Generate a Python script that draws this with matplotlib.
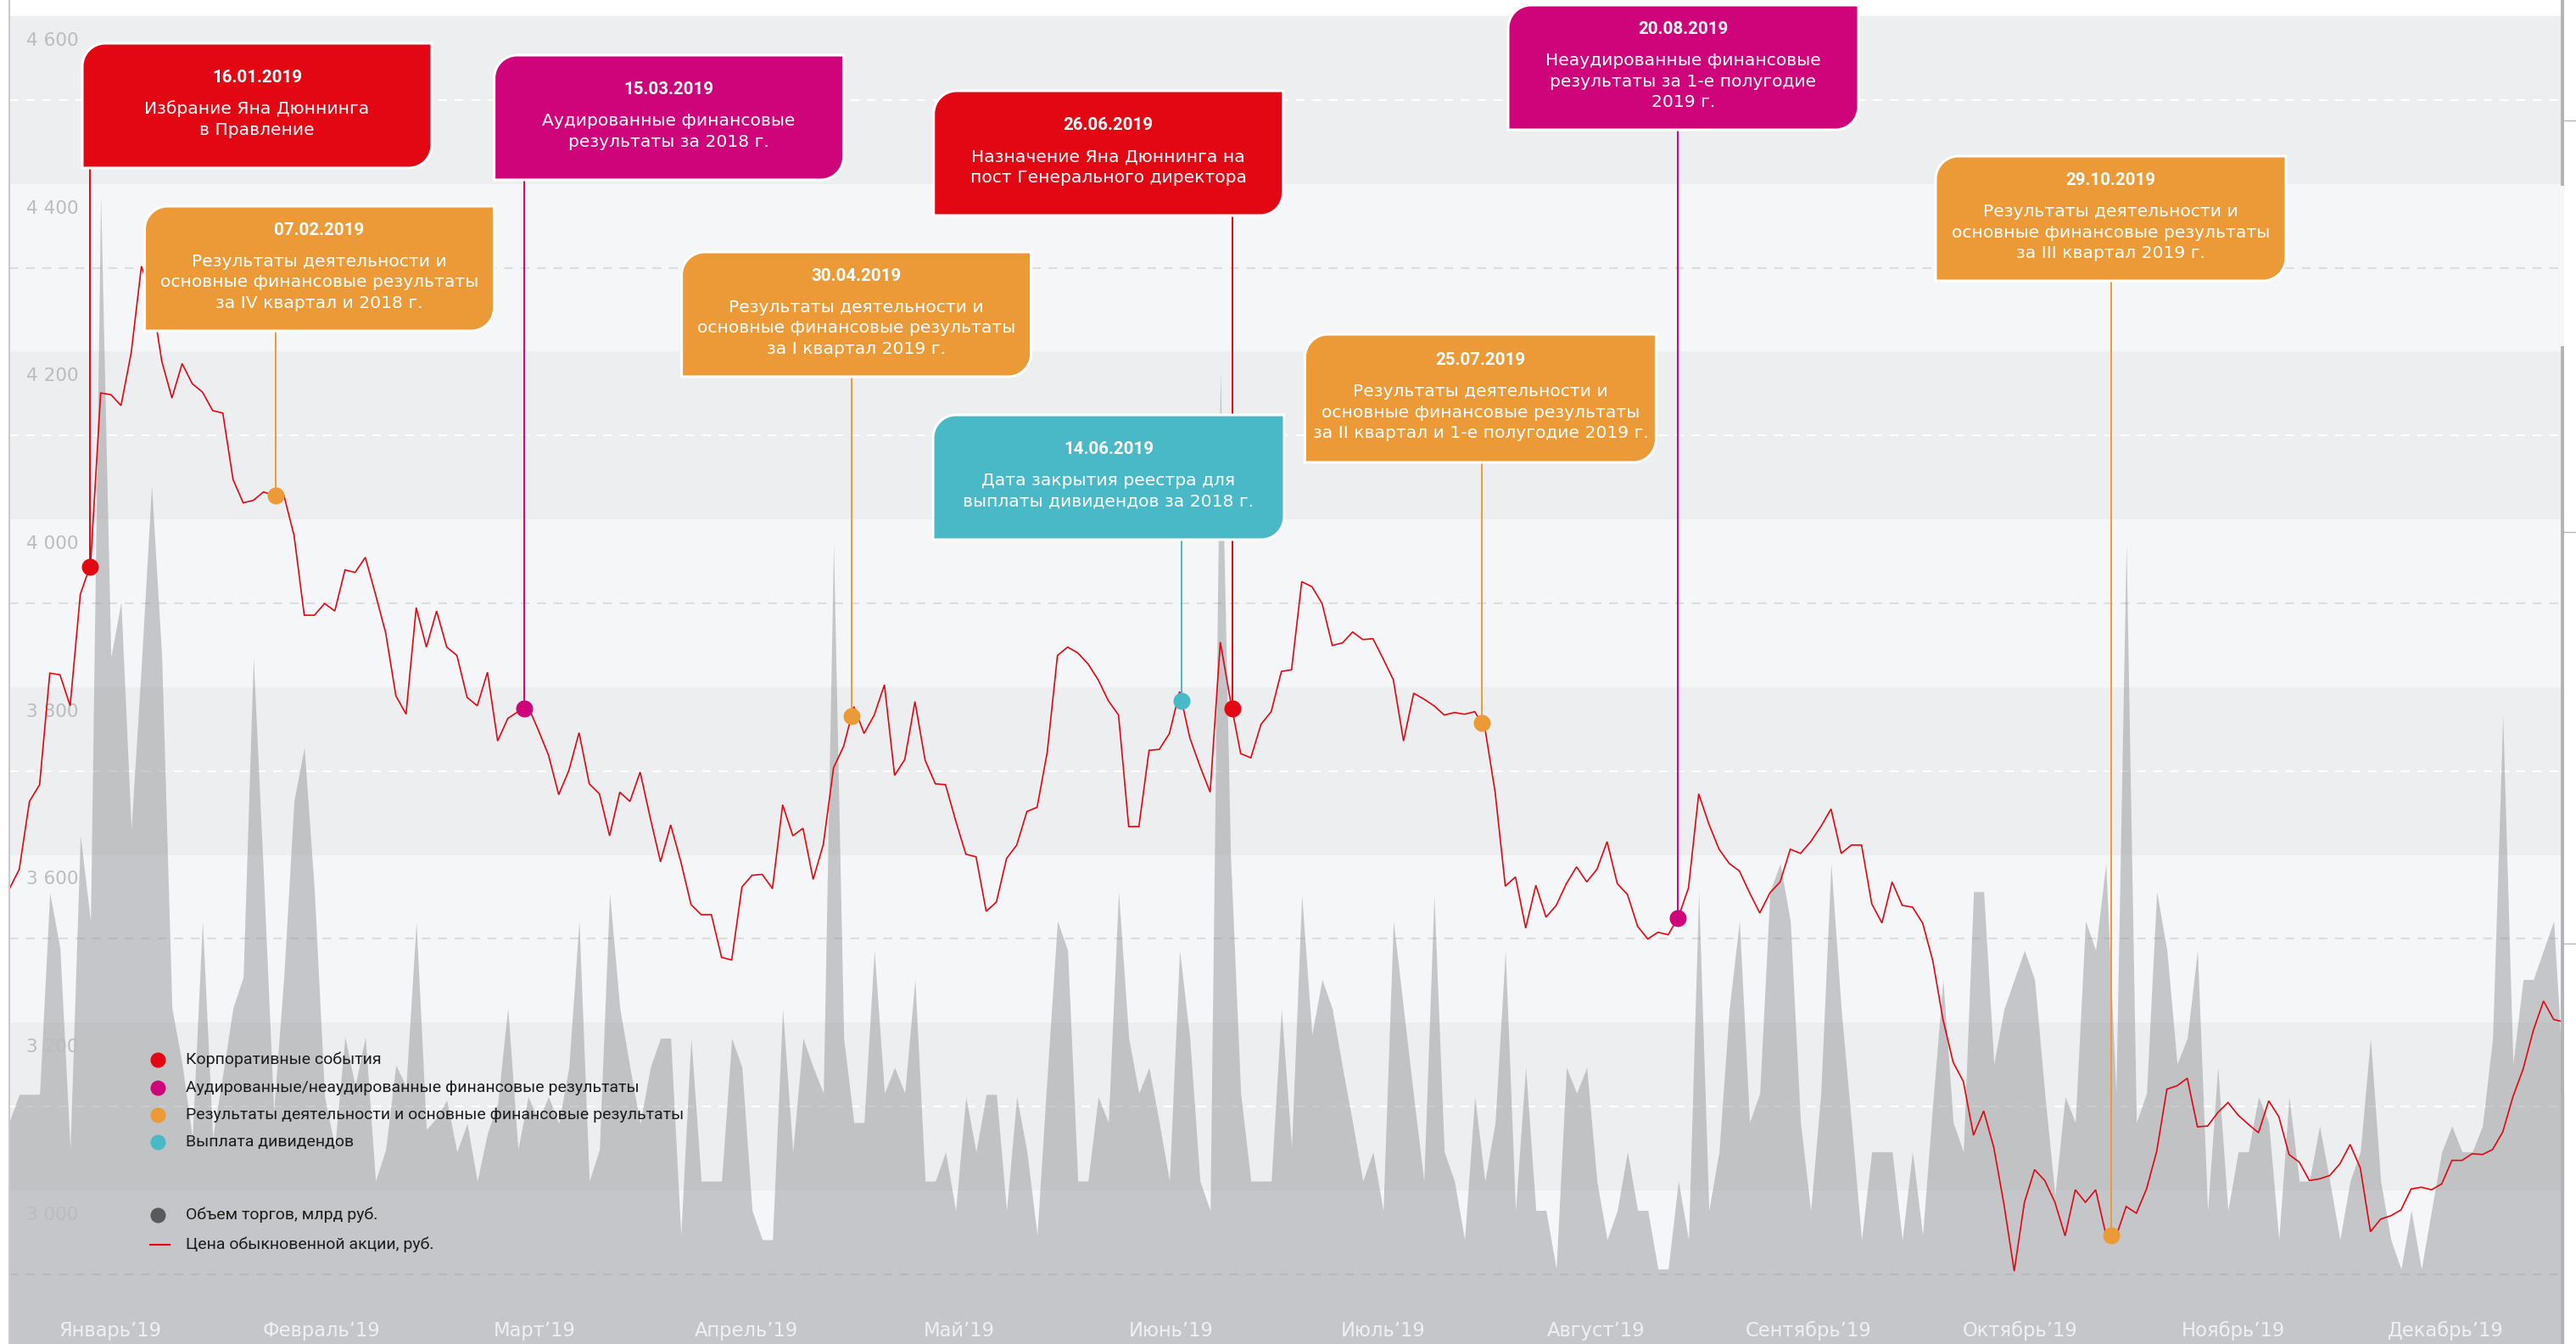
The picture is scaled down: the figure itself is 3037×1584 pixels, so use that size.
import numpy as np
import matplotlib
matplotlib.use("Agg")
import matplotlib.pyplot as plt
from matplotlib.path import Path
from matplotlib.patches import PathPatch
import matplotlib.transforms as mtransforms

plt.rcParams['lines.scale_dashes'] = False
plt.rcParams['font.family'] = ['DejaVu Sans']

W, H, DPI = 3037, 1584, 100

# ---------------- data ----------------
price = [
    3586, 3610, 3691, 3711, 3844, 3842, 3805, 3938, 3973, 4178,
    4176, 4163, 4226, 4329, 4294, 4216, 4172, 4213, 4189, 4179,
    4157, 4154, 4075, 4047, 4050, 4060, 4056, 4056, 4008, 3913,
    3913, 3927, 3918, 3967, 3964, 3982, 3938, 3892, 3817, 3795,
    3922, 3875, 3918, 3875, 3865, 3815, 3805, 3845, 3763, 3790,
    3798, 3804, 3776, 3746, 3699, 3728, 3773, 3712, 3700, 3650,
    3702, 3691, 3726, 3671, 3619, 3663, 3619, 3568, 3556, 3556,
    3505, 3502, 3589, 3603, 3604, 3587, 3687, 3650, 3659, 3598,
    3640, 3731, 3757, 3804, 3772, 3794, 3830, 3722, 3741, 3810,
    3740, 3712, 3711, 3668, 3628, 3625, 3560, 3571, 3623, 3639,
    3679, 3684, 3750, 3865, 3875, 3868, 3855, 3836, 3811, 3794,
    3661, 3661, 3752, 3753, 3772, 3822, 3767, 3733, 3702, 3881,
    3811, 3748, 3743, 3783, 3798, 3846, 3848, 3953, 3947, 3927,
    3877, 3880, 3893, 3884, 3885, 3861, 3836, 3763, 3820, 3813,
    3805, 3794, 3797, 3795, 3798, 3778, 3702, 3590, 3601, 3540,
    3591, 3553, 3567, 3593, 3613, 3595, 3610, 3643, 3593, 3580,
    3542, 3527, 3535, 3532, 3553, 3588, 3700, 3664, 3634, 3617,
    3608, 3582, 3558, 3582, 3595, 3634, 3629, 3643, 3661, 3682,
    3629, 3639, 3639, 3569, 3546, 3595, 3567, 3565, 3546, 3501,
    3431, 3380, 3357, 3293, 3322, 3278, 3210, 3131, 3213, 3252,
    3239, 3213, 3173, 3228, 3213, 3228, 3175, 3172, 3208, 3200,
    3229, 3274, 3348, 3352, 3361, 3303, 3304, 3320, 3332, 3317,
    3306, 3296, 3334, 3315, 3270, 3261, 3239, 3241, 3245, 3259,
    3282, 3254, 3178, 3193, 3197, 3204, 3229, 3231, 3228, 3235,
    3263, 3263, 3271, 3270, 3276, 3297, 3339, 3372, 3418, 3453,
    3431, 3428,
]

volume = [
    1.89, 2.13, 2.13, 2.13, 3.85, 3.38, 1.66, 4.34, 3.61, 9.80,
    5.86, 6.33, 4.39, 5.80, 7.33, 5.86, 2.87, 2.39, 1.76, 3.61,
    1.76, 2.30, 2.87, 3.13, 5.86, 3.99, 1.99, 3.14, 4.64, 5.09,
    3.86, 2.11, 1.68, 2.62, 2.20, 2.62, 1.39, 1.66, 2.38, 2.20,
    3.60, 1.83, 1.93, 2.08, 1.64, 1.88, 1.39, 1.80, 2.05, 2.87,
    1.66, 2.11, 1.91, 2.11, 1.88, 2.36, 3.61, 1.39, 1.66, 3.85,
    2.87, 2.36, 1.88, 2.36, 2.61, 2.61, 0.93, 2.61, 1.39, 1.39,
    1.39, 2.61, 2.36, 1.14, 0.89, 0.89, 2.86, 1.64, 2.61, 2.36,
    2.14, 6.83, 2.61, 1.89, 1.89, 3.36, 2.14, 2.36, 2.14, 3.11,
    1.39, 1.39, 1.64, 1.14, 2.11, 1.64, 2.13, 2.13, 1.14, 2.11,
    1.64, 0.93, 2.30, 3.61, 3.36, 1.39, 1.39, 2.11, 1.89, 3.86,
    2.61, 2.14, 2.36, 1.89, 1.39, 3.36, 2.61, 1.39, 1.14, 8.30,
    4.18, 2.14, 1.39, 1.39, 1.39, 2.86, 1.68, 3.83, 2.64, 3.11,
    2.86, 2.36, 1.89, 1.39, 1.64, 1.14, 3.61, 2.86, 2.11, 1.39,
    3.83, 1.64, 1.39, 0.89, 2.11, 1.39, 1.89, 3.36, 1.14, 2.36,
    1.14, 1.14, 0.64, 2.36, 2.14, 2.36, 1.39, 0.89, 1.14, 1.64,
    1.14, 1.14, 0.64, 0.64, 1.39, 0.89, 3.86, 1.14, 1.64, 2.86,
    3.61, 1.89, 2.14, 3.86, 4.10, 3.61, 1.89, 1.14, 2.14, 4.10,
    2.86, 1.89, 0.89, 1.64, 1.64, 1.64, 0.89, 1.64, 0.93, 2.05,
    3.11, 1.89, 1.64, 3.86, 3.86, 2.39, 2.86, 3.11, 3.36, 3.11,
    2.14, 1.27, 2.11, 1.89, 3.61, 3.36, 4.10, 2.14, 6.83, 1.89,
    2.14, 3.86, 3.36, 2.39, 2.61, 3.36, 1.14, 2.36, 1.14, 1.64,
    1.64, 2.11, 1.89, 0.89, 2.11, 1.39, 1.39, 1.86, 1.39, 0.89,
    1.39, 1.64, 2.61, 1.39, 0.89, 0.64, 1.14, 0.64, 1.14, 1.64,
    1.86, 1.64, 1.64, 1.86, 2.61, 5.36, 2.39, 3.11, 3.11, 3.36,
    3.61, 2.14,
]

months = ["Январь’19", "Февраль’19", "Март’19", "Апрель’19", "Май’19", "Июнь’19",
          "Июль’19", "Август’19", "Сентябрь’19", "Октябрь’19", "Ноябрь’19", "Декабрь’19"]
month_pos = [9.9, 30.7, 51.6, 72.4, 93.3, 114.2, 135.0, 155.9, 176.8, 197.6, 218.5, 239.4]

ytick_values = [4600, 4400, 4200, 4000, 3800, 3600, 3400, 3200]
ytick_labels = ["4 600", "4 400", "4 200", "4 000", "3 800", "3 600", "3 200", "3 000"]

event_dates = ["16.01.2019", "07.02.2019", "15.03.2019", "30.04.2019", "14.06.2019",
               "26.06.2019", "25.07.2019", "20.08.2019", "29.10.2019"]
event_x = [7.95, 26.16, 50.6, 82.76, 115.2, 120.15, 144.65, 163.94, 206.56]
event_kind = ["corp", "fin", "audit", "fin", "div", "corp", "fin", "audit", "fin"]
event_text = [
    ["Избрание Яна Дюннинга", "в Правление"],
    ["Результаты деятельности и", "основные финансовые результаты", "за IV квартал и 2018 г."],
    ["Аудированные финансовые", "результаты за 2018 г."],
    ["Результаты деятельности и", "основные финансовые результаты", "за I квартал 2019 г."],
    ["Дата закрытия реестра для", "выплаты дивидендов за 2018 г."],
    ["Назначение Яна Дюннинга на", "пост Генерального директора"],
    ["Результаты деятельности и", "основные финансовые результаты", "за II квартал и 1-е полугодие 2019 г."],
    ["Неаудированные финансовые", "результаты за 1-е полугодие", "2019 г."],
    ["Результаты деятельности и", "основные финансовые результаты", "за III квартал 2019 г."],
]

legend_kinds = ["corp", "audit", "fin", "div"]
legend_labels = ["Корпоративные события",
                 "Аудированные/неаудированные финансовые результаты",
                 "Результаты деятельности и основные финансовые результаты",
                 "Выплата дивидендов"]
volume_label = "Объем торгов, млрд руб."
price_label = "Цена обыкновенной акции, руб."

# ---------------- styles / layout ----------------
colors = {"corp": "#e30613", "audit": "#cf047b", "fin": "#ec9a37", "div": "#4ab9c7"}
LINE_RED = "#e30613"
BAND_DARK, BAND_LIGHT = "#edeef0", "#f5f6f8"
VOL_COLOR = "#838589"

# box layout in figure pixels (left, top, width, height), same order as events
box_layout = [
    (97, 51, 412, 147),
    (170.5, 243, 412, 147),
    (582.6, 65, 412, 147),
    (803.6, 297, 412, 147),
    (1100, 489, 414, 147),
    (1100.7, 107, 412, 147),
    (1538.4, 394, 414, 151),
    (1778, 6, 413, 147),
    (2282, 184, 413, 147),
]

X0_PX, X1_PX, TOP_PX = 10.7, 3022.7, 19
YMIN, YMAX = 3044.1, 4627.3
VOL_TOP = 11.33

fig = plt.figure(figsize=(W / DPI, H / DPI), dpi=DPI, facecolor="white")
ax = fig.add_axes([X0_PX / W, 0, (X1_PX - X0_PX) / W, (H - TOP_PX) / H])
ax.patch.set_visible(False)
idx = np.arange(len(price))

# background bands and dashed mid-lines
for k in range(8):
    top = YMAX - 200 * k
    dark = (k % 2 == 0)
    ax.axhspan(top - 200, top, color=BAND_DARK if dark else BAND_LIGHT, lw=0, zorder=0.1)
    ax.axhline(top - 100, color="#ffffff" if dark else "#dcdde0", lw=1.5,
               dashes=(7.5, 6.5), zorder=0.2)

# volume (own scale via blended transform)
vol_trans = mtransforms.blended_transform_factory(
    ax.transData, mtransforms.Affine2D().scale(1, 1 / VOL_TOP) + ax.transAxes)
ax.fill_between(idx, 0, volume, transform=vol_trans, color=VOL_COLOR, alpha=0.42,
                lw=0, zorder=0.5)

# price line
ax.plot(idx, price, color=LINE_RED, lw=1.2, zorder=3, solid_joinstyle="miter")

ax.set_xlim(0, len(price) - 1)
ax.set_ylim(YMIN, YMAX)
for s in ax.spines.values():
    s.set_visible(False)

ax.set_yticks(ytick_values, ytick_labels)
ax.tick_params(axis="y", length=0, pad=-14.6, labelsize=15.6, labelcolor="#bbbcbf")
for lbl in ax.get_yticklabels():
    lbl.set_horizontalalignment("left")
ax.set_xticks(month_pos, months)
ax.tick_params(axis="x", length=0, pad=-11.5, labelsize=16.3, labelcolor="#eff0f2")
for lbl in ax.get_xticklabels():
    lbl.set_verticalalignment("center")


def px_to_data_y(ypx):
    disp = fig.transFigure.transform((0.5, 1 - ypx / H))
    return ax.transData.inverted().transform(disp)[1]


# event leaders and dots
event_y = np.interp(event_x, idx, price)
for ex, ey, kind, (bl, bt, bw, bh) in zip(event_x, event_y, event_kind, box_layout):
    c = colors[kind]
    ax.plot([ex, ex], [ey, px_to_data_y(bt + bh - 2)], color=c, lw=1.4, zorder=4)
    ax.plot([ex], [ey], "o", ms=14.4, color=c, mec="none", zorder=5)

# overlay in pixel coordinates
ov = fig.add_axes([0, 0, 1, 1], zorder=10)
ov.set_xlim(0, W)
ov.set_ylim(H, 0)
ov.axis("off")


def box_path(x0, y0, w, h, r=27):
    x1, y1 = x0 + w, y0 + h
    k = 0.5523
    verts = [(x0, y0 + r),
             (x0, y0 + r * (1 - k)), (x0 + r * (1 - k), y0), (x0 + r, y0),
             (x1, y0), (x1, y1 - r),
             (x1, y1 - r * (1 - k)), (x1 - r * (1 - k), y1), (x1 - r, y1),
             (x0, y1), (x0, y0 + r)]
    codes = [Path.MOVETO, Path.CURVE4, Path.CURVE4, Path.CURVE4, Path.LINETO, Path.LINETO,
             Path.CURVE4, Path.CURVE4, Path.CURVE4, Path.LINETO, Path.CLOSEPOLY]
    return Path(verts, codes)


for date, lines, kind, (bl, bt, bw, bh) in zip(event_dates, event_text, event_kind, box_layout):
    ov.add_patch(PathPatch(box_path(bl, bt, bw, bh), facecolor=colors[kind],
                           edgecolor="white", lw=2.2, zorder=2))
    n = len(lines)
    span = 37 + 24.7 * (n - 1)
    cx = bl + bw / 2
    dy = bt + bh / 2 - 2 - span / 2
    ov.text(cx, dy, date, ha="center", va="center", color="white", fontsize=14.8,
            family=["Roboto", "DejaVu Sans"], fontweight="bold", zorder=3)
    for j, line in enumerate(lines):
        ov.text(cx, dy + 37 + 24.7 * j, line, ha="center", va="center", color="white",
                fontsize=14.6, family=["DejaVu Sans"], zorder=3)

# legend
leg_y = [1249, 1282, 1314, 1346]
LEG_FS = 14.0
for kind, label, y in zip(legend_kinds, legend_labels, leg_y):
    ov.plot([185.7], [y], "o", ms=13, color=colors[kind], mec="none")
    ov.text(219, y, label, va="center", ha="left", fontsize=LEG_FS,
            family=["Roboto", "DejaVu Sans"], color="#1d1d1b")
ov.plot([185.7], [1432], "o", ms=13, color="#58595b", mec="none")
ov.text(219, 1432, volume_label, va="center", ha="left", fontsize=LEG_FS,
        family=["Roboto", "DejaVu Sans"], color="#1d1d1b")
ov.plot([177, 200], [1467, 1467], color=LINE_RED, lw=1.5)
ov.text(219, 1467, price_label, va="center", ha="left", fontsize=LEG_FS,
        family=["Roboto", "DejaVu Sans"], color="#1d1d1b")

# frame lines
ov.plot([11, 11], [0, H], color="#c9cacd", lw=1.5)
ov.plot([3021, 3021], [0, 217], color="#b1b3b6", lw=2.8)
ov.plot([3021, 3021], [410, H], color="#b1b3b6", lw=2.8)
for y in (142, 627, 1112):
    ov.plot([3021, W], [y, y], color="#b1b3b6", lw=0.9)

fig.savefig("out.png", dpi=DPI, facecolor="white")
